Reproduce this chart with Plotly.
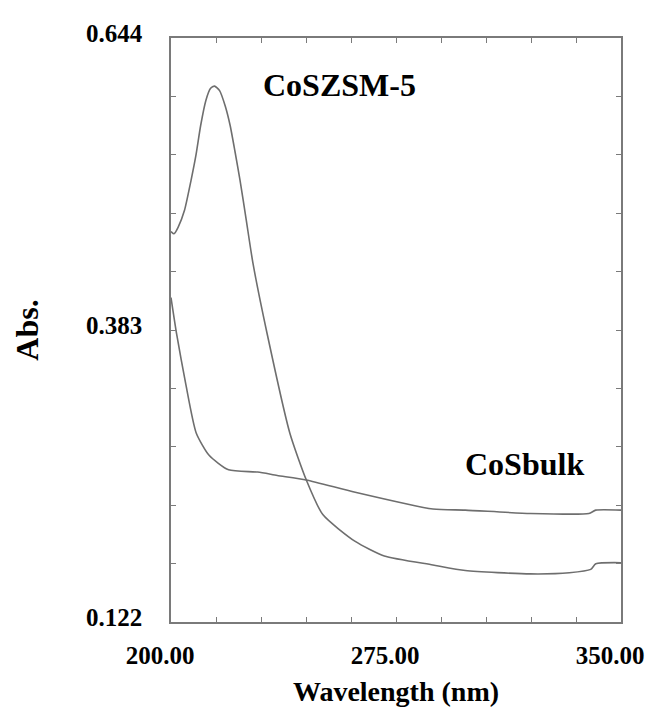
import plotly.graph_objects as go

# ---- data ----
wl_coszsm5 = [200.0, 201.0, 202.4, 204.5, 206.7, 208.3, 209.9, 211.6, 213.2, 214.5, 216.2, 218.1,
              219.7, 221.3, 223.0, 225.1, 227.3, 232.1, 239.6, 245.1, 250.6, 261.4, 271.1, 287.3,
              298.1, 319.8, 332.8, 339.9, 341.6, 350.0]
abs_coszsm5 = [0.471, 0.469, 0.475, 0.490, 0.517, 0.539, 0.566, 0.588, 0.599, 0.601, 0.597, 0.583,
               0.566, 0.543, 0.517, 0.481, 0.443, 0.379, 0.291, 0.249, 0.218, 0.194, 0.181, 0.173,
               0.168, 0.165, 0.166, 0.169, 0.174, 0.175]

wl_cosbulk = [200.0, 201.9, 204.9, 208.4, 212.7, 219.2, 228.9, 235.4, 245.1, 261.4, 287.3, 298.1,
              319.8, 339.3, 341.6, 350.0]
abs_cosbulk = [0.412, 0.379, 0.335, 0.291, 0.271, 0.258, 0.256, 0.253, 0.249, 0.238, 0.223, 0.222,
               0.219, 0.219, 0.222, 0.222]

x_tick_values = [200, 275, 350]
x_tick_labels = ["200.00", "275.00", "350.00"]
x_tick_step = 15
y_tick_values = [0.122, 0.383, 0.644]
y_tick_labels = ["0.122", "0.383", "0.644"]
y_tick_step = 0.0522

series_labels = ["CoSZSM-5", "CoSbulk"]

# ---- build ticks ----
x_all = [200 + i * x_tick_step for i in range(11)]
x_text = [x_tick_labels[x_tick_values.index(v)] if v in x_tick_values else "" for v in x_all]
y_all = [round(0.122 + i * y_tick_step, 4) for i in range(11)]
y_text = []
for v in y_all:
    lab = ""
    for tv, tl in zip(y_tick_values, y_tick_labels):
        if abs(tv - v) < 1e-3:
            lab = tl
    y_text.append(lab)

FONT = "Liberation Serif"
LINE = "#6e6e6e"
FRAME = "#7a7a7a"

fig = go.Figure()
for wl, ab in [(wl_coszsm5, abs_coszsm5), (wl_cosbulk, abs_cosbulk)]:
    fig.add_trace(go.Scatter(x=wl, y=ab, mode="lines",
                             line=dict(color=LINE, width=1.6, shape="spline", smoothing=0.6),
                             showlegend=False, hoverinfo="skip"))

fig.add_annotation(x=0.374, y=0.92, xref="paper", yref="paper", text=series_labels[0],
                   showarrow=False, font=dict(family=FONT, size=32, color="black", weight="bold"),
                   xanchor="center", yanchor="middle")
fig.add_annotation(x=0.785, y=0.27, xref="paper", yref="paper", text=series_labels[1],
                   showarrow=False, font=dict(family=FONT, size=32, color="black", weight="bold"),
                   xanchor="center", yanchor="middle")

# the page body has an 8px margin on every side; size the figure so the page
# fits the 664x723 window exactly (no scrollbars)
fig.update_layout(
    width=648, height=707,
    margin=dict(l=163, r=23, t=20, b=93),
    paper_bgcolor="white", plot_bgcolor="white",
    font=dict(family=FONT, color="black"),
    xaxis=dict(range=[200, 350], tickvals=x_all, ticktext=x_text,
               ticks="inside", ticklen=5, tickwidth=1.2, tickcolor=FRAME,
               showline=True, linecolor=FRAME, linewidth=1.6, mirror="ticks",
               showgrid=False, zeroline=False,
               tickfont=dict(family=FONT, size=25, color="black", weight="bold"),
               ticklabelstandoff=10, ticklabeloverflow="allow", ticklabelshift=-11,
               title=dict(text="Wavelength (nm)", standoff=14,
                          font=dict(family=FONT, size=28, color="black", weight="bold"))),
    yaxis=dict(range=[0.122, 0.644], tickvals=y_all, ticktext=y_text,
               ticks="inside", ticklen=5, tickwidth=1.2, tickcolor=FRAME,
               showline=True, linecolor=FRAME, linewidth=1.6,
               mirror="ticks", showgrid=False, zeroline=False,
               tickfont=dict(family=FONT, size=25, color="black", weight="bold"),
               ticklabelstandoff=22, ticklabeloverflow="allow", ticklabelshift=-5,
               title=dict(text="Abs.", standoff=38,
                          font=dict(family=FONT, size=32, color="black", weight="bold"))),
)

fig.write_html("out.html")
